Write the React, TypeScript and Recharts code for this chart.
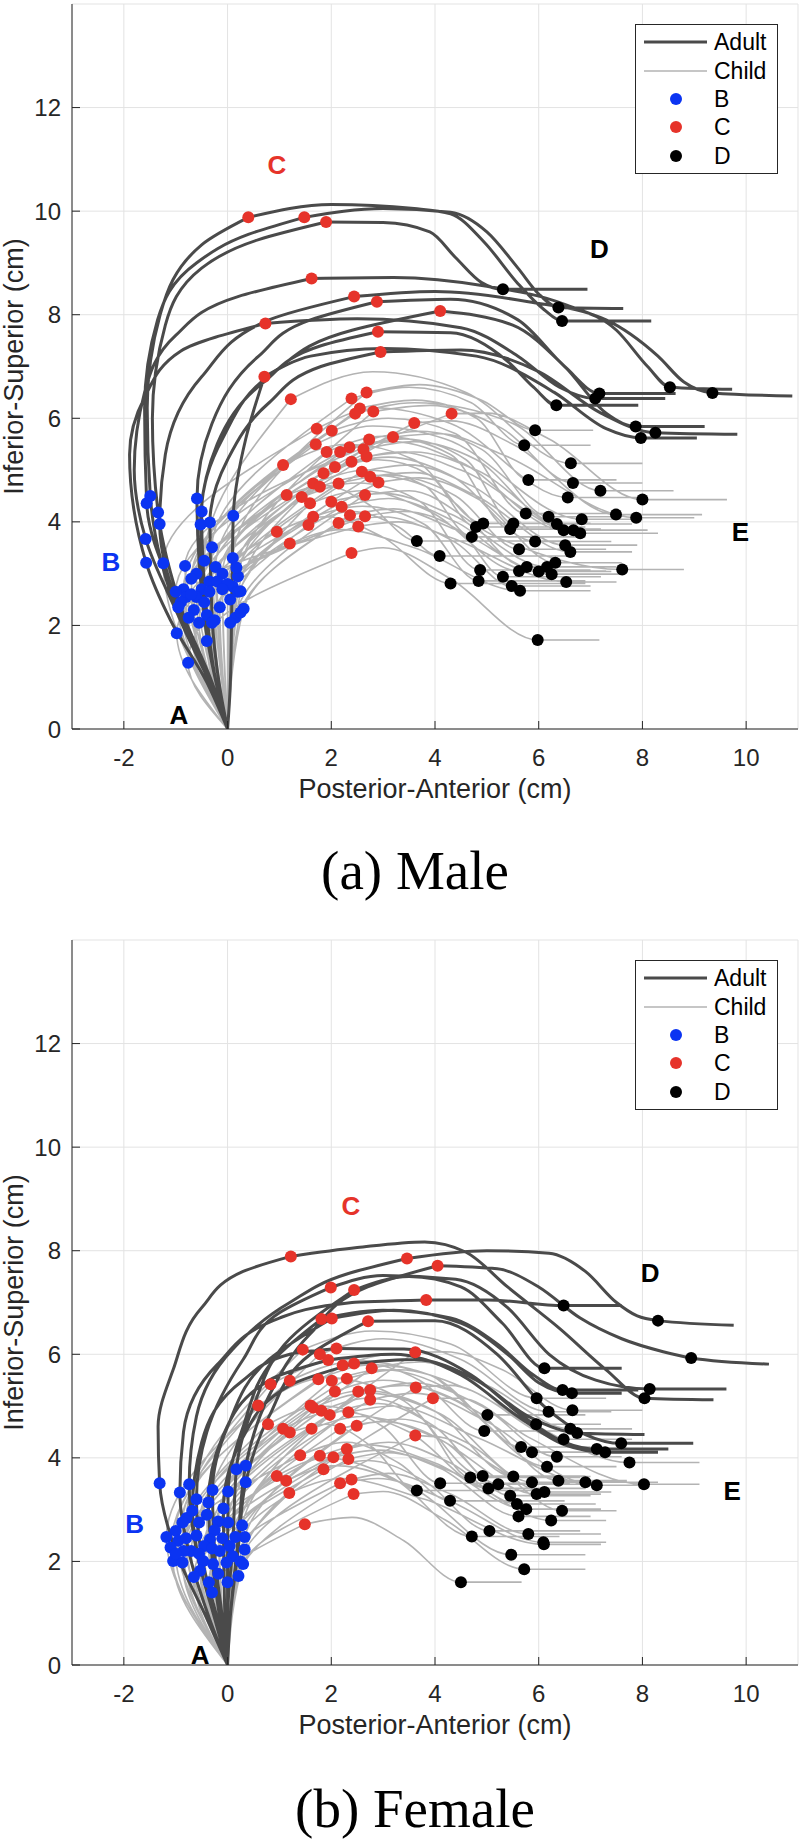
import React from 'react';
import { ComposedChart, Line, Scatter, XAxis, YAxis, CartesianGrid, Legend, Label } from 'recharts';

type Pt = [number, number];

// one tongue track: A (origin) -> B -> C -> D, then the flat extension to E
interface Track {
  up: Pt[];
  b: Pt;
  rise: Pt[];
  c: Pt;
  fall: Pt[];
  d: Pt;
  e: Pt;
}

interface Letter {
  label: string;
  x: number;
  y: number;
}

const ORIGIN: Pt = [0, 0];
const X_TICKS = [-2, 0, 2, 4, 6, 8, 10];
const Y_TICKS = [0, 2, 4, 6, 8, 10, 12];

const ADULT = '#4a4a4a';
const CHILD = '#b3b3b3';
const BLUE = '#0b34f2';
const RED = '#e6332a';
const BLACK = '#000000';
const AXIS = '#262626';

const maleAdult: Track[] = [
  { up: [[-0.35, 0.9], [-0.95, 2.2]], b: [-1.49, 4.5], rise: [[-1.55, 6.2], [-1.3, 8.0], [-0.5, 9.35]], c: [0.4, 9.88], fall: [[2.0, 10.13], [3.6, 10.05], [4.3, 9.95], [4.95, 9.4], [5.6, 8.6], [6.1, 8.1]], d: [6.45, 7.88], e: [8.17, 7.88] },
  { up: [[-0.3, 0.9], [-0.9, 2.3]], b: [-1.56, 4.36], rise: [[-1.6, 6.2], [-1.35, 7.9], [-0.6, 9.0], [0.4, 9.55]], c: [1.48, 9.88], fall: [[3.0, 10.05], [4.3, 9.98], [5.0, 9.6], [5.6, 8.9], [6.0, 8.4]], d: [6.38, 8.14], e: [7.63, 8.12] },
  { up: [[-0.3, 0.8], [-0.85, 2.2]], b: [-1.34, 4.18], rise: [[-1.45, 6.0], [-1.2, 7.8], [-0.5, 8.9], [0.6, 9.45]], c: [1.9, 9.79], fall: [[3.0, 9.78], [3.9, 9.6], [4.4, 9.1], [4.9, 8.62]], d: [5.31, 8.49], e: [6.94, 8.49] },
  { up: [[-0.35, 0.9], [-1.0, 2.3]], b: [-1.58, 3.67], rise: [[-1.8, 5.0], [-1.6, 6.5], [-1.0, 7.6], [0.2, 8.35]], c: [1.62, 8.7], fall: [[3.2, 8.72], [5.0, 8.55], [6.5, 8.2], [7.5, 7.7], [8.1, 7.0]], d: [8.53, 6.6], e: [9.73, 6.56] },
  { up: [[-0.3, 0.8], [-0.9, 2.2]], b: [-1.31, 3.96], rise: [[-1.2, 5.3], [-0.5, 6.8], [0.8, 7.9]], c: [2.44, 8.35], fall: [[4.0, 8.45], [5.8, 8.25], [7.3, 7.9], [8.3, 7.2], [8.8, 6.7]], d: [9.35, 6.49], e: [10.89, 6.43] },
  { up: [[-0.2, 0.8], [-0.45, 2.2]], b: [-0.59, 4.45], rise: [[-0.3, 5.9], [0.6, 7.2], [1.6, 7.9]], c: [2.88, 8.25], fall: [[4.3, 8.3], [5.6, 7.9], [6.5, 7.0]], d: [7.17, 6.48], e: [8.64, 6.48] },
  { up: [[-0.4, 0.9], [-1.1, 2.1]], b: [-1.57, 3.21], rise: [[-1.89, 5.3], [-1.6, 6.4], [-0.9, 7.3]], c: [0.73, 7.83], fall: [[2.5, 7.92], [4.5, 7.75], [5.6, 7.2], [6.4, 6.6]], d: [7.09, 6.38], e: [8.44, 6.38] },
  { up: [[-0.2, 0.8], [-0.4, 2.2]], b: [-0.5, 4.2], rise: [[-0.1, 5.6], [0.9, 6.9], [2.4, 7.7]], c: [4.1, 8.07], fall: [[5.5, 7.8], [6.5, 7.0], [7.3, 6.1]], d: [7.87, 5.84], e: [9.2, 5.84] },
  { up: [[-0.2, 0.8], [-0.45, 2.2]], b: [-0.52, 3.95], rise: [[-0.2, 5.5], [0.7, 6.7], [1.8, 7.4]], c: [2.9, 7.67], fall: [[4.3, 7.65], [5.4, 7.1], [5.9, 6.6]], d: [6.34, 6.25], e: [7.92, 6.25] },
  { up: [[-0.15, 0.8], [-0.3, 2.2]], b: [-0.34, 3.99], rise: [[0.0, 5.2], [0.8, 6.3], [1.8, 7.0]], c: [2.95, 7.28], fall: [[4.5, 7.32], [6.0, 6.9], [7.2, 6.1]], d: [8.25, 5.72], e: [9.83, 5.69] },
  { up: [[0.05, 0.8], [0.08, 2.3]], b: [0.11, 4.12], rise: [[0.35, 5.6]], c: [0.71, 6.8], fall: [[1.6, 7.2], [3.0, 7.35], [4.8, 7.2], [6.3, 6.5], [7.3, 5.8]], d: [7.97, 5.62], e: [9.05, 5.62] },
];

// child rows: bx, by, cx, cy, peak x, peak y, shoulder x, shoulder y, dx, dy, tail end x
const maleChild: number[][] = [
  [0.10, 3.30, 2.68, 6.50, 3.7, 6.65, 4.9, 6.35, 5.93, 5.77, 7.05],
  [-0.30, 3.51, 2.39, 6.38, 3.5, 6.6, 4.7, 6.3, 5.72, 5.48, 7.0],
  [-0.45, 3.25, 1.22, 6.37, 2.8, 6.9, 4.6, 6.5, 6.62, 5.13, 8.0],
  [-0.23, 3.13, 2.55, 6.19, 3.6, 6.35, 4.8, 6.0, 5.80, 4.81, 7.5],
  [0.20, 2.95, 2.81, 6.13, 3.9, 6.25, 5.3, 5.8, 6.66, 4.75, 8.0],
  [-0.60, 3.00, 2.46, 6.09, 3.6, 6.3, 5.5, 5.9, 7.19, 4.60, 8.6],
  [-0.82, 3.15, 4.32, 6.09, 5.0, 6.1, 6.2, 5.6, 8.00, 4.43, 9.63],
  [-0.10, 3.00, 3.60, 5.91, 4.3, 5.95, 5.5, 5.5, 7.49, 4.14, 9.15],
  [-1.24, 3.20, 1.72, 5.80, 2.9, 6.2, 4.3, 5.9, 6.56, 4.47, 7.9],
  [-0.70, 2.90, 2.01, 5.76, 3.1, 6.0, 4.4, 5.7, 5.75, 4.16, 7.3],
  [0.17, 3.12, 3.19, 5.64, 4.1, 5.7, 5.3, 5.3, 7.88, 4.08, 9.0],
  [-0.35, 2.85, 2.73, 5.59, 3.7, 5.75, 4.9, 5.4, 6.19, 4.10, 7.6],
  [-0.85, 2.70, 1.70, 5.50, 2.8, 5.85, 4.2, 5.6, 6.83, 4.05, 8.0],
  [-0.20, 2.85, 2.35, 5.44, 3.4, 5.6, 4.6, 5.2, 5.51, 3.97, 7.0],
  [0.10, 2.75, 2.62, 5.40, 3.6, 5.55, 4.8, 5.2, 6.35, 3.96, 7.8],
  [-0.50, 2.70, 1.91, 5.35, 3.0, 5.65, 4.3, 5.3, 5.45, 3.86, 7.2],
  [-1.00, 2.65, 2.17, 5.35, 3.2, 5.55, 4.5, 5.15, 6.48, 3.84, 7.9],
  [0.00, 2.80, 2.68, 5.26, 3.6, 5.35, 4.8, 5.0, 6.67, 3.84, 8.1],
  [-0.60, 2.55, 2.39, 5.16, 3.3, 5.35, 4.5, 5.0, 6.80, 3.78, 8.3],
  [-0.80, 2.55, 1.07, 5.10, 2.3, 5.5, 3.6, 5.2, 4.93, 3.97, 7.0],
  [0.20, 2.65, 2.07, 5.06, 3.1, 5.25, 4.3, 4.9, 5.93, 3.62, 7.4],
  [-0.15, 2.35, 2.59, 4.97, 3.5, 5.1, 4.7, 4.7, 6.51, 3.55, 7.9],
  [-0.90, 2.45, 1.85, 4.94, 2.9, 5.2, 3.9, 4.9, 4.79, 3.90, 6.9],
  [0.25, 2.66, 2.75, 4.87, 3.6, 4.95, 4.8, 4.5, 6.61, 3.42, 7.8],
  [0.05, 2.50, 2.91, 4.76, 3.7, 4.85, 4.9, 4.4, 6.32, 3.21, 7.6],
  [-0.45, 2.45, 1.65, 4.74, 2.7, 5.0, 3.8, 4.7, 4.71, 3.71, 6.9],
  [-0.40, 2.20, 2.14, 4.74, 3.1, 4.9, 4.4, 4.5, 5.62, 3.47, 7.3],
  [-0.65, 2.30, 1.78, 4.68, 2.8, 4.9, 4.2, 4.5, 5.77, 3.13, 7.4],
  [-0.95, 2.35, 1.14, 4.52, 1.9, 4.7, 2.7, 4.35, 3.65, 3.63, 6.6],
  [0.15, 2.15, 2.65, 4.52, 3.5, 4.6, 5.2, 3.7, 7.61, 3.08, 8.8],
  [-0.55, 2.05, 1.43, 4.48, 2.5, 4.75, 3.7, 4.4, 4.87, 3.07, 7.0],
  [-0.25, 2.10, 2.00, 4.39, 3.0, 4.55, 4.3, 4.15, 6.16, 3.13, 7.5],
  [0.05, 2.05, 1.59, 4.36, 2.6, 4.6, 3.9, 4.2, 5.62, 3.05, 7.3],
  [-0.30, 2.05, 2.20, 4.29, 3.1, 4.45, 4.4, 4.0, 6.00, 3.04, 7.4],
  [0.31, 2.32, 2.36, 4.13, 3.2, 4.25, 4.4, 3.85, 6.25, 2.99, 7.6],
  [-0.75, 2.15, 2.65, 4.11, 3.4, 4.2, 4.5, 3.8, 5.31, 2.94, 7.2],
  [-0.98, 1.85, 1.65, 4.10, 2.6, 4.3, 3.8, 3.95, 4.84, 2.86, 6.9],
  [0.25, 2.25, 2.14, 3.98, 3.0, 4.1, 4.3, 3.7, 6.53, 2.84, 7.5],
  [-0.76, 1.28, 1.56, 3.94, 2.4, 4.2, 3.3, 3.9, 4.09, 3.34, 6.6],
  [-0.70, 2.60, 2.52, 3.91, 3.3, 4.0, 4.4, 3.6, 5.48, 2.76, 7.0],
  [-0.35, 2.65, 0.95, 3.81, 1.9, 4.1, 3.0, 3.7, 4.30, 2.81, 6.9],
  [-0.10, 2.70, 1.20, 3.58, 2.2, 3.85, 3.6, 3.5, 5.64, 2.67, 7.0],
  [-0.40, 1.70, 2.39, 3.40, 3.0, 3.5, 4.3, 2.9, 5.98, 1.72, 7.17],
];

const femaleAdult: Track[] = [
  { up: [[-0.4, 0.9], [-1.0, 2.2]], b: [-1.31, 3.51], rise: [[-1.34, 4.6], [-1.05, 5.7], [-0.5, 6.9], [0.3, 7.6]], c: [1.22, 7.89], fall: [[2.5, 8.06], [3.8, 8.17], [4.6, 7.97], [5.4, 7.3], [6.4, 6.5], [7.3, 5.7]], d: [8.04, 5.15], e: [9.37, 5.12] },
  { up: [[-0.25, 0.9], [-0.6, 2.2]], b: [-0.74, 3.49], rise: [[-0.6, 4.8], [0.1, 6.1], [1.2, 7.0], [2.3, 7.55]], c: [3.46, 7.85], fall: [[5.0, 8.0], [6.2, 7.95], [6.9, 7.6], [7.5, 7.0], [7.9, 6.74]], d: [8.3, 6.65], e: [9.76, 6.56] },
  { up: [[0.05, 0.9], [0.2, 2.4]], b: [0.35, 3.85], rise: [[0.8, 5.2], [1.6, 6.4], [2.7, 7.3]], c: [4.05, 7.71], fall: [[5.2, 7.65], [6.0, 7.3], [6.8, 6.7], [7.6, 6.3], [8.4, 6.05]], d: [8.94, 5.93], e: [10.44, 5.81] },
  { up: [[-0.2, 0.9], [-0.5, 2.1]], b: [-0.6, 3.2], rise: [[-0.4, 4.5], [0.3, 5.9], [1.0, 6.8]], c: [1.99, 7.29], fall: [[3.0, 7.52], [4.4, 7.45], [5.4, 6.9], [6.2, 6.0], [7.1, 5.5]], d: [8.14, 5.33], e: [9.62, 5.33] },
  { up: [[0.0, 0.9], [0.1, 2.3]], b: [0.17, 3.78], rise: [[0.5, 5.0], [1.2, 6.3]], c: [2.44, 7.24], fall: [[3.5, 7.5], [4.5, 7.3], [5.3, 6.6]], d: [6.11, 5.73], e: [7.6, 5.73] },
  { up: [[-0.35, 0.9], [-0.75, 2.2]], b: [-0.92, 3.33], rise: [[-0.85, 4.5], [-0.2, 5.8], [1.0, 6.7], [2.4, 7.0]], c: [3.83, 7.05], fall: [[5.0, 7.05]], d: [6.48, 6.94], e: [7.6, 6.94] },
  { up: [[0.0, 0.9], [0.0, 2.2]], b: [0.01, 3.35], rise: [[0.3, 4.6], [0.9, 5.9]], c: [1.81, 6.68], fall: [[3.0, 6.85], [4.3, 6.7], [5.2, 6.2], [5.9, 5.6]], d: [6.46, 5.31], e: [7.92, 5.31] },
  { up: [[-0.1, 0.9], [-0.25, 2.2]], b: [-0.29, 3.38], rise: [[0.0, 4.6], [0.8, 5.9]], c: [2.01, 6.69], fall: [[3.2, 6.85], [4.5, 6.6], [5.4, 6.0], [6.0, 5.45]], d: [6.64, 5.25], e: [7.6, 5.25] },
  { up: [[0.05, 0.9], [0.2, 2.2]], b: [0.35, 3.53], rise: [[0.8, 4.8], [1.6, 6.0]], c: [2.71, 6.64], fall: [[4.0, 6.65], [5.2, 6.0], [6.1, 5.0], [6.9, 4.45]], d: [7.59, 4.28], e: [8.98, 4.28] },
  { up: [[-0.25, 0.9], [-0.55, 2.0]], b: [-0.68, 2.98], rise: [[-0.5, 4.3], [0.3, 5.5], [1.2, 6.0]], c: [2.1, 6.11], fall: [[3.4, 6.1], [4.7, 5.6], [5.7, 4.8], [6.5, 4.3]], d: [7.12, 4.17], e: [8.5, 4.17] },
  { up: [[-0.15, 0.9], [-0.3, 2.1]], b: [-0.37, 3.14], rise: [[-0.1, 4.4], [0.8, 5.5]], c: [1.94, 5.89], fall: [[3.2, 6.0], [4.5, 5.6], [5.6, 4.8], [6.5, 4.25]], d: [7.28, 4.11], e: [8.3, 4.11] },
  { up: [[-0.05, 0.9], [-0.07, 2.0]], b: [-0.08, 3.02], rise: [[0.3, 4.4], [1.2, 5.4]], c: [2.44, 5.82], fall: [[3.6, 5.9], [4.8, 5.5], [5.8, 4.8]], d: [6.74, 4.48], e: [8.04, 4.45] },
];

const femaleChild: number[][] = [
  [-0.79, 2.84, 1.45, 6.09, 2.8, 6.45, 4.3, 6.2, 5.96, 5.15, 7.3],
  [0.28, 2.70, 3.62, 6.04, 4.2, 6.05, 5.3, 5.7, 6.65, 4.92, 8.0],
  [-0.40, 2.90, 1.78, 6.00, 3.0, 6.3, 4.5, 5.9, 6.19, 4.89, 7.4],
  [-0.87, 2.75, 2.22, 5.79, 3.2, 6.0, 4.4, 5.7, 5.95, 4.65, 7.2],
  [0.01, 2.75, 2.78, 5.73, 3.7, 5.85, 5.0, 5.4, 6.61, 4.56, 7.8],
  [-0.55, 2.75, 2.30, 5.53, 3.3, 5.7, 4.7, 5.3, 6.48, 4.36, 7.8],
  [-1.00, 2.59, 1.75, 5.52, 2.8, 5.8, 3.9, 5.6, 5.01, 4.83, 6.9],
  [-0.18, 2.77, 2.01, 5.49, 3.0, 5.7, 4.3, 5.3, 5.66, 4.21, 7.0],
  [-1.18, 2.47, 1.20, 5.49, 2.4, 5.85, 3.7, 5.5, 4.95, 4.52, 6.7],
  [-0.95, 2.40, 0.83, 5.42, 2.2, 5.9, 3.9, 5.6, 5.87, 4.11, 7.1],
  [0.33, 2.47, 3.63, 5.36, 4.3, 5.4, 5.6, 4.8, 7.75, 3.91, 9.1],
  [-0.25, 2.60, 2.75, 5.31, 3.6, 5.45, 4.9, 5.0, 6.35, 4.02, 7.6],
  [-0.60, 2.50, 2.07, 5.28, 3.0, 5.5, 4.4, 5.1, 6.16, 3.83, 7.5],
  [0.15, 2.47, 2.52, 5.28, 3.4, 5.4, 4.8, 4.9, 6.38, 3.56, 7.7],
  [0.33, 2.23, 3.96, 5.15, 4.5, 5.15, 5.8, 4.4, 8.03, 3.49, 9.1],
  [-0.10, 2.45, 2.75, 5.12, 3.6, 5.25, 5.0, 4.7, 6.90, 3.53, 8.3],
  [-1.10, 2.27, 0.59, 5.01, 1.9, 5.55, 3.4, 5.1, 4.92, 3.65, 6.9],
  [-0.80, 2.45, 1.60, 5.01, 2.6, 5.3, 4.0, 4.9, 5.51, 3.64, 7.0],
  [-0.34, 2.43, 1.65, 4.97, 2.7, 5.25, 4.1, 4.85, 5.87, 3.53, 7.2],
  [-0.70, 2.20, 1.81, 4.91, 2.7, 5.15, 3.7, 4.8, 4.68, 3.62, 6.8],
  [0.04, 2.30, 2.33, 4.88, 3.2, 5.0, 4.8, 4.4, 7.12, 3.47, 8.0],
  [-0.45, 2.30, 1.97, 4.83, 2.9, 5.05, 4.0, 4.6, 5.22, 3.49, 6.9],
  [-1.05, 2.01, 0.78, 4.65, 1.8, 5.0, 3.0, 4.6, 4.10, 3.51, 6.6],
  [0.10, 2.10, 2.49, 4.62, 3.3, 4.75, 4.6, 4.3, 6.11, 3.34, 7.4],
  [-0.87, 1.98, 1.07, 4.56, 2.1, 4.9, 3.5, 4.5, 5.03, 3.41, 6.9],
  [-0.30, 2.25, 1.62, 4.56, 2.6, 4.8, 4.0, 4.4, 5.96, 3.30, 7.2],
  [-0.15, 2.20, 2.17, 4.56, 3.0, 4.7, 4.2, 4.3, 5.45, 3.27, 7.0],
  [-0.85, 2.20, 1.20, 4.49, 1.9, 4.65, 2.8, 4.2, 3.65, 3.37, 6.0],
  [0.25, 2.00, 3.62, 4.43, 4.1, 4.4, 5.2, 3.8, 6.45, 2.98, 7.5],
  [-0.47, 2.01, 2.30, 4.17, 3.1, 4.3, 4.3, 3.9, 5.58, 3.11, 7.1],
  [-1.00, 2.15, 1.40, 4.05, 2.3, 4.3, 3.3, 3.9, 4.29, 3.17, 6.5],
  [-0.55, 2.15, 1.78, 4.04, 2.7, 4.25, 4.0, 3.9, 5.76, 3.01, 7.2],
  [-0.28, 1.95, 2.04, 4.01, 2.9, 4.15, 4.1, 3.8, 5.61, 2.87, 7.0],
  [-0.02, 1.98, 2.33, 3.98, 3.1, 4.1, 4.4, 3.7, 6.24, 2.79, 7.3],
  [-0.53, 1.82, 1.85, 3.78, 2.7, 3.95, 3.8, 3.55, 5.05, 2.59, 6.8],
  [-0.65, 1.70, 0.95, 3.65, 1.9, 4.0, 3.2, 3.6, 4.71, 2.48, 6.4],
  [0.21, 1.72, 2.39, 3.58, 3.1, 3.7, 4.3, 3.3, 5.80, 2.53, 7.2],
  [-0.36, 1.60, 1.13, 3.56, 2.1, 3.85, 3.6, 3.4, 5.47, 2.13, 6.9],
  [-0.18, 1.76, 2.17, 3.51, 2.9, 3.6, 4.2, 3.2, 6.09, 2.37, 7.3],
  [0.00, 1.60, 1.19, 3.32, 2.2, 3.6, 3.8, 3.2, 6.10, 2.33, 7.2],
  [0.30, 1.95, 2.43, 3.30, 3.0, 3.35, 4.2, 2.8, 5.72, 1.85, 6.9],
  [-0.30, 1.40, 1.49, 2.72, 2.4, 2.85, 3.4, 2.4, 4.50, 1.60, 5.67],
];

const maleLetters: Letter[] = [
  { label: 'A', x: -0.94, y: 0.27 },
  { label: 'B', x: -2.25, y: 3.23 },
  { label: 'C', x: 0.95, y: 10.9 },
  { label: 'D', x: 7.17, y: 9.26 },
  { label: 'E', x: 9.89, y: 3.81 },
];

const femaleLetters: Letter[] = [
  { label: 'A', x: -0.53, y: 0.19 },
  { label: 'B', x: -1.79, y: 2.73 },
  { label: 'C', x: 2.38, y: 8.86 },
  { label: 'D', x: 8.15, y: 7.57 },
  { label: 'E', x: 9.73, y: 3.36 },
];

const LETTER_COLORS: Record<string, string> = { A: BLACK, B: BLUE, C: RED, D: BLACK, E: BLACK };

const childTrack = (r: number[]): Track => ({
  up: [],
  b: [r[0], r[1]],
  rise: [],
  c: [r[2], r[3]],
  fall: [[r[4], r[5]], [r[6], r[7]]],
  d: [r[8], r[9]],
  e: [r[10], r[9]],
});

// A..C climbs (y rises), C..E runs forward (x rises)
const lowerPath = (t: Track): Pt[] => [ORIGIN, ...t.up, t.b, ...t.rise, t.c];
const upperPath = (t: Track): Pt[] => [t.c, ...t.fall, t.d, t.e];

// many paths in one series, split by null rows
const toRows = (paths: Pt[][]) =>
  paths.flatMap(p => [
    ...p.map(([x, y]) => ({ x, y: y as number | null })),
    { x: p[p.length - 1][0], y: null },
  ]);

const marks = (tracks: Track[], key: 'b' | 'c' | 'd') => tracks.map(t => ({ x: t[key][0], y: t[key][1] }));

const dotShape = (fill: string) => (p: any) => <circle cx={p.cx} cy={p.cy} r={6} fill={fill} />;

const letterShape = (p: any) => {
  const label = p.payload?.label ?? p.label;
  return (
    <text x={p.cx} y={p.cy} textAnchor="middle" dominantBaseline="central" fontSize={26} fontWeight="bold" fill={LETTER_COLORS[label]}>
      {label}
    </text>
  );
};

const LEGEND_ITEMS = [
  { label: 'Adult', kind: 'line', color: ADULT, width: 3 },
  { label: 'Child', kind: 'line', color: CHILD, width: 1.6 },
  { label: 'B', kind: 'dot', color: BLUE, width: 0 },
  { label: 'C', kind: 'dot', color: RED, width: 0 },
  { label: 'D', kind: 'dot', color: BLACK, width: 0 },
];

const LegendBox: React.FC = () => (
  <div style={{ width: 143, height: 150, boxSizing: 'border-box', border: `1px solid ${AXIS}`, background: '#fff', paddingTop: 3 }}>
    {LEGEND_ITEMS.map(item => (
      <div key={item.label} style={{ display: 'flex', alignItems: 'center', height: 28.4 }}>
        <svg width={78} height={28} style={{ flex: 'none' }}>
          {item.kind === 'line' ? (
            <line x1={8} x2={71} y1={14} y2={14} stroke={item.color} strokeWidth={item.width} />
          ) : (
            <circle cx={40} cy={14} r={6} fill={item.color} />
          )}
        </svg>
        <span style={{ fontSize: 23, color: '#000', lineHeight: '28px' }}>{item.label}</span>
      </div>
    ))}
  </div>
);

const xLabel = (props: any) => {
  const vb = props.viewBox || { x: 72, y: 729, width: 726 };
  return (
    <text x={vb.x + vb.width / 2} y={vb.y + 69} textAnchor="middle" fontSize={27} fill={AXIS}>
      Posterior-Anterior (cm)
    </text>
  );
};

const yLabel = (props: any) => {
  const vb = props.viewBox || { x: 22, y: 4, height: 725 };
  return (
    <text transform={`translate(${vb.x + 1}, ${vb.y + vb.height / 2}) rotate(-90)`} textAnchor="middle" fontSize={27} fill={AXIS}>
      Inferior-Superior (cm)
    </text>
  );
};

interface PanelProps {
  adult: Track[];
  child: number[][];
  letters: Letter[];
}

const Panel: React.FC<PanelProps> = ({ adult, child, letters }) => {
  const kids = child.map(childTrack);
  const childLower = toRows(kids.map(lowerPath));
  const childUpper = toRows(kids.map(upperPath));
  const adultLower = toRows(adult.map(lowerPath));
  const adultUpper = toRows(adult.map(upperPath));

  return (
    <ComposedChart width={800} height={810} margin={{ top: 4, right: 2, bottom: 0, left: 22 }}>
      <CartesianGrid stroke="#e3e3e3" strokeWidth={1} />
      <XAxis
        type="number"
        dataKey="x"
        domain={[-3, 11]}
        ticks={X_TICKS}
        interval={0}
        allowDataOverflow
        height={81}
        tickSize={-8}
        tickMargin={28}
        tick={{ fill: AXIS, fontSize: 24 }}
        axisLine={{ stroke: AXIS }}
        tickLine={{ stroke: AXIS }}
      >
        <Label content={xLabel} />
      </XAxis>
      <YAxis
        type="number"
        dataKey="y"
        domain={[0, 14]}
        ticks={Y_TICKS}
        interval={0}
        allowDataOverflow
        width={50}
        tickSize={-8}
        tickMargin={19}
        tick={{ fill: AXIS, fontSize: 24 }}
        axisLine={{ stroke: AXIS }}
        tickLine={{ stroke: AXIS }}
      >
        <Label content={yLabel} />
      </YAxis>
      <Legend
        layout="vertical"
        align="center"
        verticalAlign="middle"
        content={() => <LegendBox />}
        wrapperStyle={{ left: 635, top: 24, right: 'auto', bottom: 'auto', width: 143, height: 150 }}
      />
      <Line data={childLower} dataKey="y" type="monotoneY" stroke={CHILD} strokeWidth={1.6} dot={false} activeDot={false} legendType="none" isAnimationActive={false} />
      <Line data={childUpper} dataKey="y" type="monotoneX" stroke={CHILD} strokeWidth={1.6} dot={false} activeDot={false} legendType="none" isAnimationActive={false} />
      <Scatter data={marks(kids, 'b')} shape={dotShape(BLUE)} legendType="none" isAnimationActive={false} />
      <Scatter data={marks(kids, 'c')} shape={dotShape(RED)} legendType="none" isAnimationActive={false} />
      <Scatter data={marks(kids, 'd')} shape={dotShape(BLACK)} legendType="none" isAnimationActive={false} />
      <Line data={adultLower} dataKey="y" type="monotoneY" stroke={ADULT} strokeWidth={3} dot={false} activeDot={false} legendType="none" isAnimationActive={false} />
      <Line data={adultUpper} dataKey="y" type="monotoneX" stroke={ADULT} strokeWidth={3} dot={false} activeDot={false} legendType="none" isAnimationActive={false} />
      <Scatter data={marks(adult, 'b')} shape={dotShape(BLUE)} legendType="none" isAnimationActive={false} />
      <Scatter data={marks(adult, 'c')} shape={dotShape(RED)} legendType="none" isAnimationActive={false} />
      <Scatter data={marks(adult, 'd')} shape={dotShape(BLACK)} legendType="none" isAnimationActive={false} />
      <Scatter data={letters} shape={letterShape} legendType="none" isAnimationActive={false} />
    </ComposedChart>
  );
};

const Caption: React.FC<{ text: string; top: number }> = ({ text, top }) => (
  <svg width={800} height={70} style={{ position: 'absolute', left: 0, top }}>
    <text x={415} y={50} textAnchor="middle" fontSize={55} fontFamily='"Liberation Serif", "DejaVu Serif", serif' fill="#000">
      {text}
    </text>
  </svg>
);

const App: React.FC = () => (
  <div style={{ position: 'absolute', left: 0, top: 0, width: 800, height: 1841, background: '#fff', fontFamily: '"Liberation Sans", Arial, sans-serif' }}>
    <div style={{ position: 'absolute', left: 0, top: 0 }}>
      <Panel adult={maleAdult} child={maleChild} letters={maleLetters} />
    </div>
    <Caption text="(a) Male" top={839} />
    <div style={{ position: 'absolute', left: 0, top: 936 }}>
      <Panel adult={femaleAdult} child={femaleChild} letters={femaleLetters} />
    </div>
    <Caption text="(b) Female" top={1777} />
  </div>
);

export default App;
